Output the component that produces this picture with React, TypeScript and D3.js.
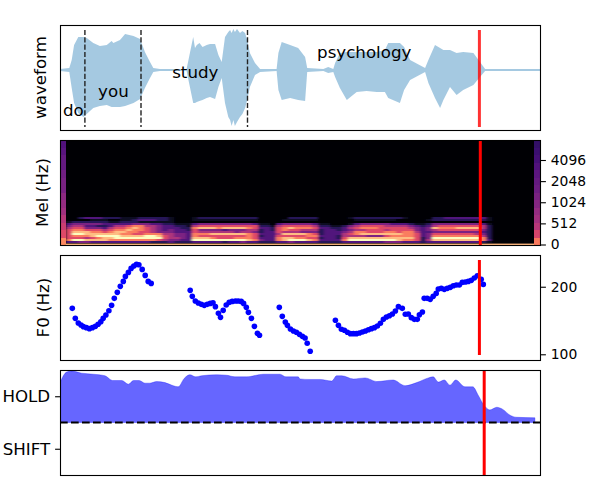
import React, { useEffect, useRef } from 'react';
import * as d3 from 'd3';

// waveform envelope, x in frames, amplitude
const waveFrames = [0, 3.1, 3.9, 4.7, 6.1, 7.8, 8.9, 11.1, 13.3, 15.6, 17.2, 17.8, 20, 21.7, 24.5, 26.7, 28.3, 30, 31.1, 33.3, 42.2, 43.3, 44.4, 45, 45.6, 46.5, 47.5, 48.9, 50, 51.7, 52.8, 53.9, 55, 56.1, 56.7, 57.2, 57.8, 58.3, 59, 60, 60.8, 61.7, 62.4, 63.3, 65, 66.7, 72.2, 72.8, 73.9, 76.7, 79.4, 81.7, 82.4, 87.8, 89.4, 91.1, 91.7, 93.3, 95.6, 98.9, 102.2, 105.6, 108.3, 109.4, 113.3, 114.7, 116.7, 121.7, 122.8, 125, 126.7, 127.8, 130, 132.2, 134.4, 137.8, 140, 141.7, 160];
const waveUpper = [0.01, 0.02, 0.1, 0.25, 0.33, 0.33, 0.32, 0.27, 0.24, 0.25, 0.29, 0.27, 0.3, 0.36, 0.34, 0.31, 0.18, 0.08, 0.02, 0.01, 0.01, 0.17, 0.33, 0.22, 0.25, 0.27, 0.23, 0.25, 0.26, 0.26, 0.15, 0.08, 0.33, 0.38, 0.4, 0.37, 0.41, 0.38, 0.41, 0.37, 0.39, 0.37, 0.3, 0.17, 0.07, 0.01, 0.01, 0.17, 0.28, 0.25, 0.22, 0.13, 0.02, 0.01, 0.03, 0.01, 0.07, 0.17, 0.18, 0.18, 0.18, 0.18, 0.2, 0.27, 0.27, 0.23, 0.1, 0.02, 0.1, 0.25, 0.22, 0.2, 0.2, 0.17, 0.18, 0.17, 0.08, 0.01, 0.01];
const waveLower = [-0.01, -0.02, -0.18, -0.33, -0.43, -0.47, -0.44, -0.38, -0.36, -0.35, -0.37, -0.37, -0.37, -0.36, -0.33, -0.29, -0.18, -0.08, -0.02, -0.01, -0.01, -0.17, -0.33, -0.33, -0.32, -0.31, -0.3, -0.28, -0.27, -0.29, -0.17, -0.08, -0.33, -0.47, -0.5, -0.56, -0.5, -0.56, -0.52, -0.47, -0.44, -0.38, -0.3, -0.17, -0.05, -0.02, -0.01, -0.2, -0.3, -0.28, -0.3, -0.31, -0.02, -0.01, -0.03, -0.02, -0.07, -0.18, -0.3, -0.22, -0.21, -0.22, -0.22, -0.28, -0.33, -0.2, -0.1, -0.02, -0.13, -0.28, -0.38, -0.3, -0.17, -0.25, -0.2, -0.15, -0.07, -0.01, -0.01];

const boundaryFrames = [8.3, 27, 62.5];
const words = ['do', 'you', 'study', 'psychology'];
const wordFrames = [1, 12.7, 37.4, 85.7];
const wordAmps = [-0.46, -0.27, -0.08, 0.12];

// mel intensities 0-9, top row first, lowest bins only (everything above is silent)
const melRows = [
  '0 0000000000000000 0000 0000000000000 00 00000000 00 000000000000000 0000000000 0 00000000',
  '0 0000000000000000 0000 0000000000000 00 00000000 00 000000000000000 0000000000 0 00000000',
  '0 0023332221112222 2100 0122222222220 00 00222220 00 001222222221000 0223333333 1 00000000',
  '0 0000111001123332 2100 0111111111110 00 01111110 00 000111111100000 1222222222 1 00000000',
  '0 1222222112221111 1100 0000000000000 00 00000000 00 000000000000000 0000000000 0 00000000',
  '0 3444443333344433 2211 1344444444431 10 34444431 10 001344444333211 2444444443 1 00000000',
  '0 4553322355677554 3322 1566666666662 21 56666652 21 124566665555432 3566666665 2 00000000',
  '0 5664443566787654 3332 2788878888763 32 67877763 32 235677766666543 4877788885 2 00000000',
  '0 6776665677877654 3433 2644443444552 32 67665552 33 234556665666643 4566666664 2 00000000',
  '0 6888776788776654 4433 3655555545542 33 65554442 33 345776667767753 3444444443 2 00000000',
  '0 6998888887766777 5544 3777888888763 33 58888762 33 356788888887763 4666666654 2 00000000',
  '0 6777899998888998 6544 3766666666762 33 66666773 33 255554446777763 4777777775 2 00000000',
  '0 6665678899999999 6554 3888766677763 33 78877662 33 268888888888862 4999999997 2 00000000',
  '0 7998888777777776 5443 3999999999874 33 78999873 33 379999999987762 5888888887 3 00000000',
  '0 3344333333333322 2322 2333332334332 22 33433332 22 233333334443332 3333333332 1 00000000',
].map(r => r.replace(/ /g, ''));
const melFloor = 0.85;
// the two bright columns at the edges of the spectrogram, bottom to top
const melEdgeLeft = [0.75, 0.6, 0.55, 0.5, 0.45, 0.42, 0.4, 0.35, 0.35, 0.33, 0.3, 0.3, 0.27, 0.25];
const melEdgeRight = [0.72, 0.58, 0.5, 0.45, 0.42, 0.38, 0.35, 0.32, 0.3, 0.28, 0.25, 0.22, 0.2, 0.18];
const melTicks = ['0', '512', '1024', '2048', '4096'];

const f0Frames = [4.1, 5.1, 6.1, 7, 7.8, 8.8, 9.8, 10.8, 11.8, 12.7, 13.6, 14.4, 15.3, 16.3, 17.2, 18.1, 19.1, 20.1, 21.1, 21.8, 22.8, 23.7, 24.6, 25.5, 26.3, 27.4, 28.4, 29.4, 30.4,
  43.4, 44.1, 45.1, 46.1, 47.1, 48.1, 49.1, 50.1, 51, 51.8, 52.8, 53.5, 54.4, 55.4, 56.4, 57.4, 58.5, 59.4, 60.4, 61.2, 62.1, 62.8, 63.8, 64.8, 65.8, 66.5,
  73.1, 74.1, 75.1, 75.8, 76.8, 77.8, 78.8, 79.8, 80.8, 81.7, 82.4, 83.4,
  91.8, 92.8, 93.8, 94.8, 95.8, 96.8, 97.8, 98.8, 99.8, 100.8, 101.8, 102.8, 103.8, 104.8, 105.8, 106.8, 107.8, 108.8, 109.8, 110.8, 111.8, 112.8, 114.1,
  115.1, 116.1, 117.1, 118.1, 119.1, 119.8, 120.8,
  121.4, 122.4, 123.4, 124.4, 125.4, 126.1, 127.1, 128.1, 129.1, 130.1, 131.1, 132.1, 133.1, 134.1, 135.1, 136.1, 137.1, 138.1, 139.1, 140.4, 141.1];
const f0Hz = [160.2, 144.6, 137.8, 135, 132.8, 131.4, 130.1, 131.4, 133.2, 136, 139.7, 144.6, 149.6, 156.4, 165.2, 177.5, 188.8, 200.8, 211.3, 222.4, 231.7, 241.4, 247.3, 251.6, 250.7, 239, 224.7, 211.3, 207,
  192.7, 181.2, 172.7, 169.2, 166.9, 165.2, 166.9, 168.6, 169.8, 163, 152.2, 146.1, 157, 165.8, 170.4, 172.1, 172.7, 172.7, 172.1, 168.6, 161.9, 153.8, 144.6, 133.2, 124, 121.5,
  161.9, 147.6, 139.3, 134.6, 129.6, 127, 125.3, 122.7, 120.2, 118.2, 111.9, 103.1,
  141.7, 134.6, 129.2, 127.9, 125.3, 123.6, 123.6, 123.6, 124.4, 125.7, 127, 128.7, 130.1, 131.4, 133.7, 137.4, 143.1, 146.6, 148.6, 151.2, 155.9, 163, 160.2,
  150.7, 151.2, 145.6, 143.1, 143.1, 150.1, 154.3,
  177.5, 177.5, 175.7, 181.2, 186.8, 195.4, 196.7, 194.7, 196.7, 198.7, 202.1, 203.5, 203.5, 209.2, 209.9, 211.3, 213.5, 218.7, 224, 215.7, 204.9];
const f0Ticks = [100, 200];

const holdFrames = [0.2, 1.1, 2.2, 3.9, 7.2, 11.1, 15, 17.5, 20.6, 22.8, 24.5, 26.4, 28.3, 30, 32.2, 35, 37.8, 39.4, 41.4, 43.3, 45.2, 47.2, 52.2, 55.6, 58.3, 62.2, 67.8, 73.3, 75.3, 79.4, 80, 83.3, 86.7, 90.6, 92.2, 93.9, 97.8, 101.7, 105.6, 111.1, 115, 118.9, 122.8, 124.4, 126.1, 128.1, 130, 131.9, 135, 137.6, 139.4, 141.1, 143.3, 145.6, 147.6, 150, 152.2, 158.3];
const holdValues = [0.78, 0.89, 0.96, 0.98, 0.94, 0.92, 0.89, 0.8, 0.8, 0.73, 0.8, 0.8, 0.75, 0.75, 0.78, 0.76, 0.7, 0.68, 0.84, 0.91, 0.87, 0.89, 0.91, 0.9, 0.87, 0.87, 0.92, 0.92, 0.87, 0.87, 0.83, 0.82, 0.82, 0.79, 0.89, 0.89, 0.83, 0.85, 0.78, 0.81, 0.7, 0.76, 0.85, 0.87, 0.77, 0.81, 0.71, 0.81, 0.68, 0.68, 0.52, 0.35, 0.24, 0.29, 0.25, 0.14, 0.1, 0.09];
const stateLabels = ['HOLD', 'SHIFT'];
const stateTicks = [0.5, -0.5];

const cursorFrames = [139.8, 140.1, 139.8, 141.4];

const font = '"DejaVu Sans"';

const App: React.FC = () => {
  const svgRef = useRef<SVGSVGElement>(null);

  useEffect(() => {
    if (!svgRef.current) return;
    const svg = d3.select(svgRef.current);
    svg.selectAll('*').remove();

    const x = d3.scaleLinear().domain([0, 160]).range([60, 540]);
    const panels = [[25, 130], [140, 245], [255, 360], [370, 475]];

    // waveform
    const yWave = d3.scaleLinear().domain([-0.6, 0.45]).range([130, 25]);
    const waveArea = d3.area<number>()
      .x(d => x(waveFrames[d]))
      .y0(d => yWave(waveLower[d]))
      .y1(d => yWave(waveUpper[d]));
    svg.append('path')
      .attr('d', waveArea(d3.range(waveFrames.length)))
      .attr('fill', '#1f77b4')
      .attr('opacity', 0.4);
    boundaryFrames.forEach(f => {
      svg.append('line')
        .attr('x1', x(f)).attr('x2', x(f))
        .attr('y1', 30).attr('y2', 127)
        .attr('stroke', '#222')
        .attr('stroke-width', 1.4)
        .attr('stroke-dasharray', '5.1,2.2');
    });
    words.forEach((w, i) => {
      svg.append('text')
        .attr('x', x(wordFrames[i]))
        .attr('y', yWave(wordAmps[i]))
        .attr('font-size', 16.67)
        .attr('font-family', font)
        .text(w);
    });
    svg.append('line')
      .attr('x1', x(cursorFrames[0])).attr('x2', x(cursorFrames[0]))
      .attr('y1', 30).attr('y2', 127)
      .attr('stroke', 'red').attr('stroke-width', 3).attr('opacity', 0.8);

    // mel spectrogram
    const color = (v: number) => d3.interpolateMagma(v);
    const defs = svg.append('defs');
    defs.append('filter')
      .attr('id', 'melBlur')
      .attr('filterUnits', 'userSpaceOnUse')
      .attr('x', 60).attr('y', 140).attr('width', 480).attr('height', 105)
      .append('feGaussianBlur')
      .attr('stdDeviation', '1.6 0.45');
    svg.append('rect')
      .attr('x', 60).attr('y', 140).attr('width', 480).attr('height', 105)
      .attr('fill', color(0));
    const melCol = d3.scaleBand<number>().domain(d3.range(80)).range([60, 540]);
    const melRow = d3.scaleBand<number>().domain(d3.range(melRows.length)).range([213, 243]);
    const edgeRow = d3.scaleBand<number>().domain(d3.range(melEdgeLeft.length)).range([245, 140]);
    const melCells = svg.append('g').attr('filter', 'url(#melBlur)');
    melRows.forEach((row, r) => {
      row.split('').forEach((c, i) => {
        if (c === '0') return;
        melCells.append('rect')
          .attr('x', melCol(i)!).attr('y', melRow(r)!)
          .attr('width', melCol.bandwidth()).attr('height', melRow.bandwidth())
          .attr('fill', color(Math.pow(+c / 9, 1.25)))
          .attr('shape-rendering', 'crispEdges');
      });
    });
    svg.append('rect')
      .attr('x', 60).attr('y', 243.6).attr('width', 480).attr('height', 1.4)
      .attr('fill', color(melFloor));
    [[0, melEdgeLeft], [79, melEdgeRight]].forEach(([col, vals]: any) => {
      vals.forEach((v: number, i: number) => {
        svg.append('rect')
          .attr('x', melCol(col)!).attr('y', edgeRow(i)!)
          .attr('width', melCol.bandwidth()).attr('height', edgeRow.bandwidth())
          .attr('fill', color(v))
          .attr('shape-rendering', 'crispEdges');
      });
    });
    svg.append('line')
      .attr('x1', x(cursorFrames[1])).attr('x2', x(cursorFrames[1]))
      .attr('y1', 140).attr('y2', 245)
      .attr('stroke', 'red').attr('stroke-width', 3);

    // F0
    const yF0 = d3.scaleLog().domain([94.3, 277]).range([360, 255]);
    f0Frames.forEach((f, i) => {
      svg.append('circle')
        .attr('cx', x(f)).attr('cy', yF0(f0Hz[i]))
        .attr('r', 2.8).attr('fill', 'blue');
    });
    svg.append('line')
      .attr('x1', x(cursorFrames[2])).attr('x2', x(cursorFrames[2]))
      .attr('y1', 260).attr('y2', 355)
      .attr('stroke', 'red').attr('stroke-width', 3);

    // hold / shift
    const yState = d3.scaleLinear().domain([-1, 1]).range([475, 370]);
    const holdArea = d3.area<number>()
      .curve(d3.curveMonotoneX)
      .x(d => x(holdFrames[d]))
      .y0(yState(0))
      .y1(d => yState(holdValues[d]));
    svg.append('path')
      .attr('d', holdArea(d3.range(holdFrames.length)))
      .attr('fill', 'blue')
      .attr('fill-opacity', 0.6)
      .attr('stroke', 'blue')
      .attr('stroke-opacity', 0.3)
      .attr('stroke-width', 1);
    svg.append('line')
      .attr('x1', 60).attr('x2', 540)
      .attr('y1', yState(0)).attr('y2', yState(0))
      .attr('stroke', '#000')
      .attr('stroke-width', 2.1)
      .attr('stroke-dasharray', '7.7,3.3');
    svg.append('line')
      .attr('x1', x(cursorFrames[3])).attr('x2', x(cursorFrames[3]))
      .attr('y1', 370).attr('y2', 475)
      .attr('stroke', 'red').attr('stroke-width', 3);

    // frames
    panels.forEach(([t, b]) => {
      svg.append('rect')
        .attr('x', 60.5).attr('y', t + 0.5).attr('width', 480).attr('height', b - t)
        .attr('fill', 'none').attr('stroke', '#000').attr('stroke-width', 1.1);
    });

    // axes
    const melPos = d3.scalePoint<string>().domain(melTicks).range([244.5, 160]);
    const melAxis = svg.append('g').attr('transform', 'translate(541,0)')
      .call(d3.axisRight(melPos).tickSize(4.9).tickPadding(4.9));
    const f0Axis = svg.append('g').attr('transform', 'translate(541,0)')
      .call(d3.axisRight(yF0).tickValues(f0Ticks).tickFormat(d3.format('d') as any).tickSize(4.9).tickPadding(4.9));
    const stateAxis = svg.append('g').attr('transform', 'translate(60,0)')
      .call(d3.axisLeft(yState).tickValues(stateTicks)
        .tickFormat((_, i) => stateLabels[i]).tickSize(4.9).tickPadding(4.9));
    [melAxis, f0Axis, stateAxis].forEach(a => {
      a.select('.domain').remove();
      a.selectAll('line').attr('stroke-width', 1.1);
      a.selectAll('text').attr('font-family', font).attr('font-size', 13.89);
    });
    stateAxis.selectAll('text').attr('font-size', 16.67);

    // y labels
    const yLabels = ['waveform', 'Mel (Hz)', 'F0 (Hz)'];
    const yLabelX = [46, 48, 49];
    yLabels.forEach((l, i) => {
      const cy = (panels[i][0] + panels[i][1]) / 2;
      svg.append('text')
        .attr('transform', `translate(${yLabelX[i]},${cy}) rotate(-90)`)
        .attr('text-anchor', 'middle')
        .attr('font-family', font)
        .attr('font-size', 16.67)
        .text(l);
    });
  }, []);

  return (
    <svg
      ref={svgRef}
      width={600}
      height={500}
      style={{ position: 'absolute', left: 0, top: 0, background: '#fff' }}
    />
  );
};

export default App;
